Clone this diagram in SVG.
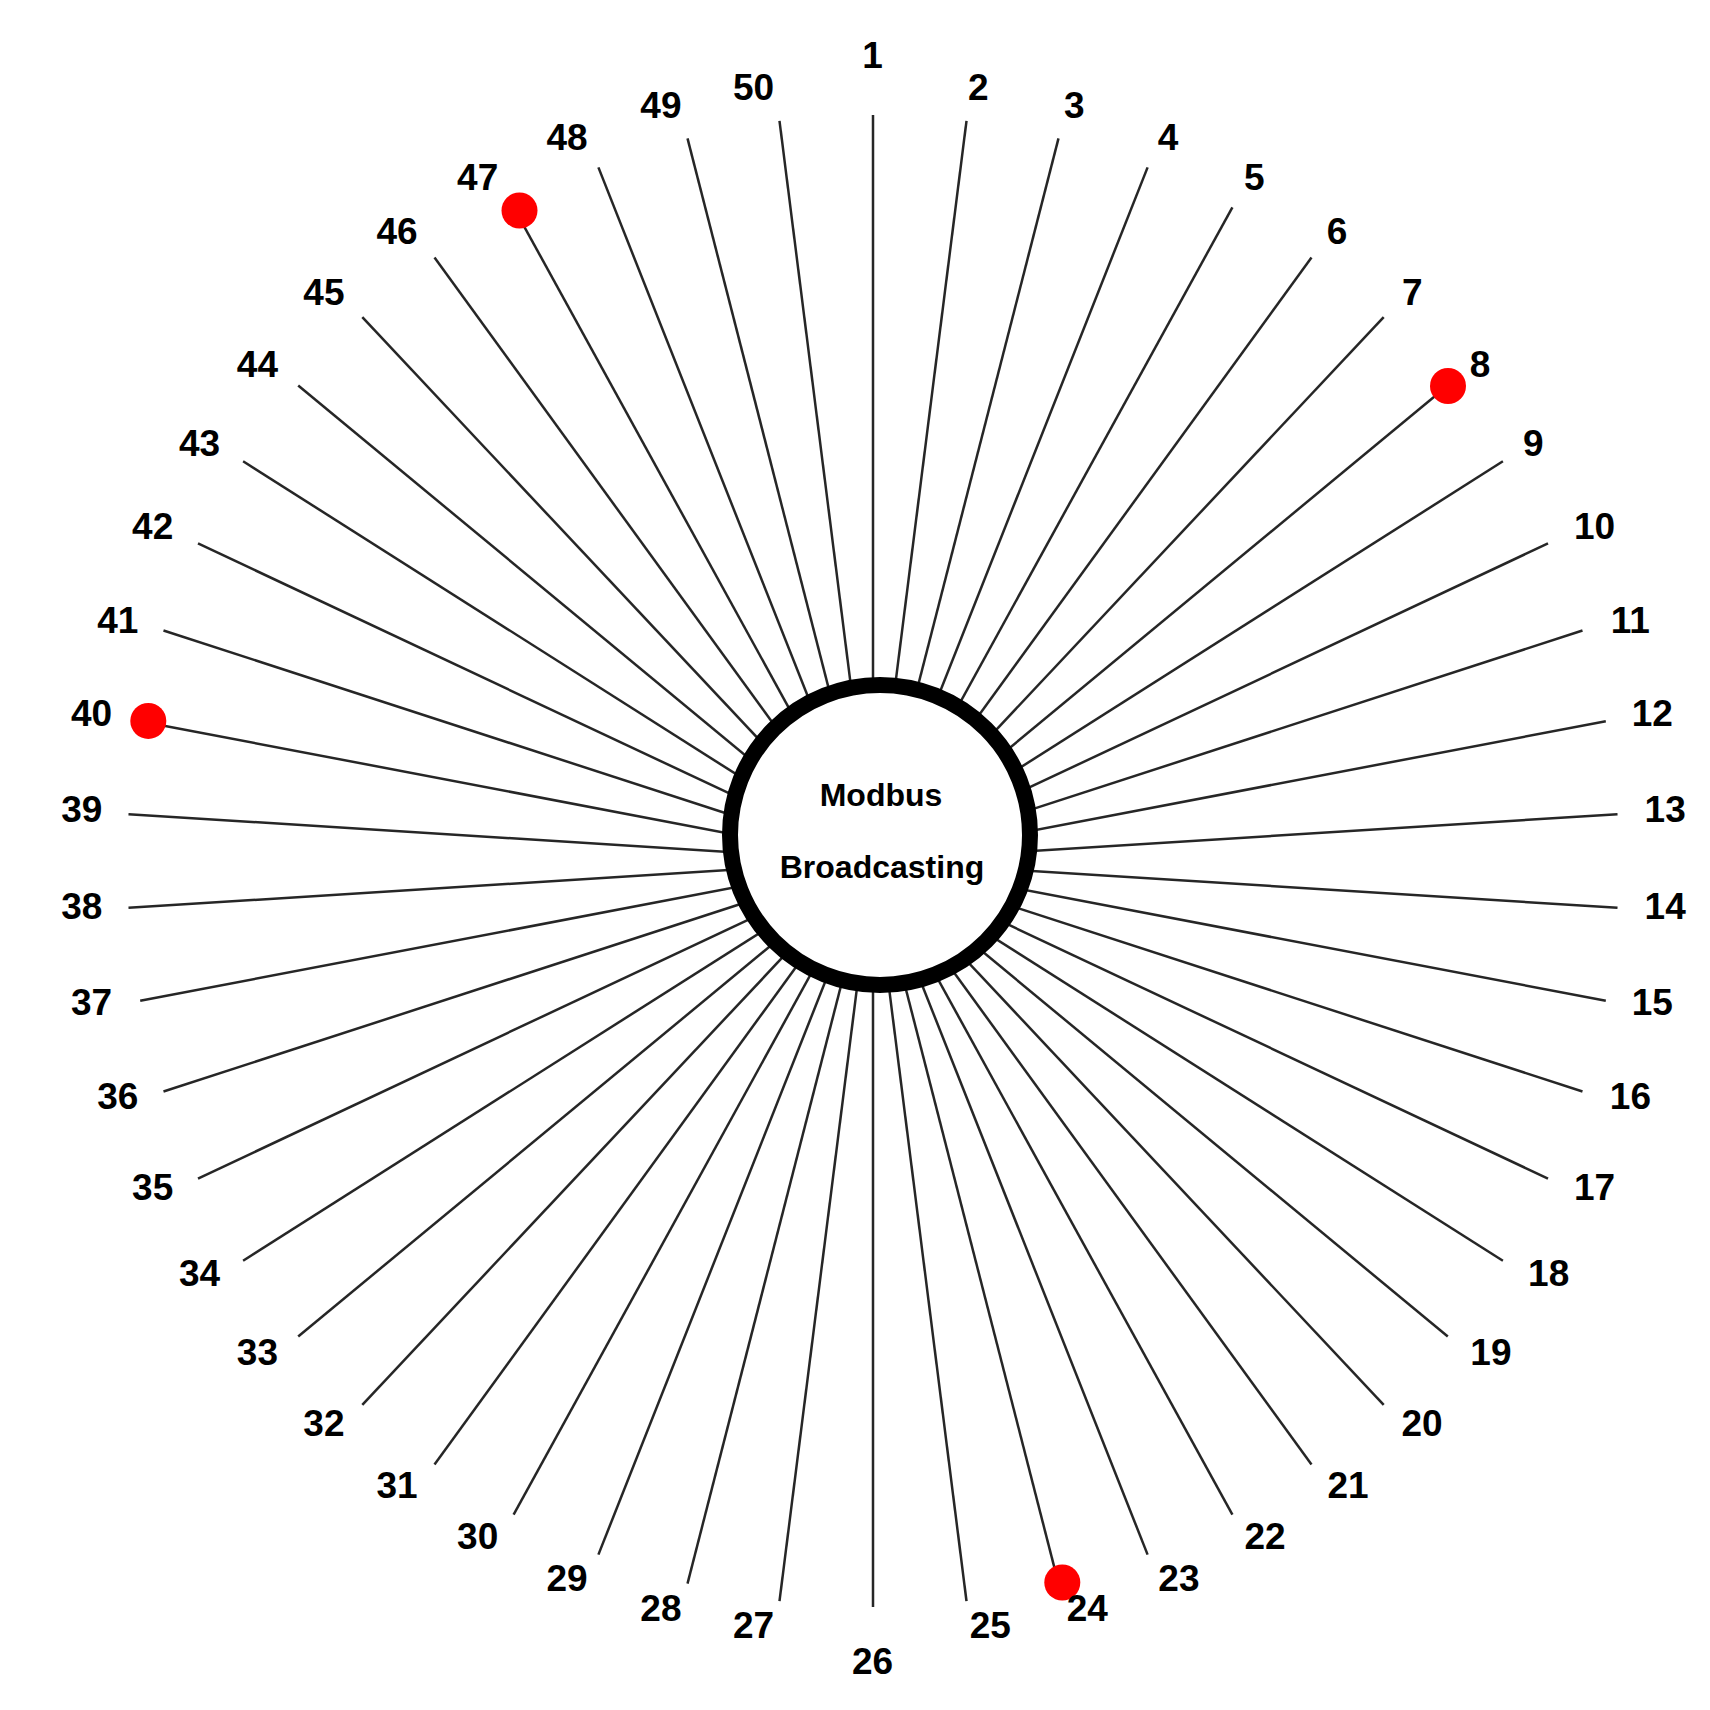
<svg xmlns="http://www.w3.org/2000/svg" width="1710" height="1710" viewBox="0 0 1710 1710">
<style>
.ln{stroke:#262626;stroke-width:2.5;fill:none}
.lb{font-family:"Liberation Sans",Arial,sans-serif;font-weight:bold;font-size:37px;fill:#000;text-anchor:middle}
.hub{fill:#fff;stroke:#000;stroke-width:16}
.ht{font-family:"Liberation Sans",Arial,sans-serif;font-weight:bold;font-size:32px;fill:#000;text-anchor:middle}
.dot{fill:#ff0000}
</style>
<rect width="1710" height="1710" fill="#fff"/>
<g id="connectors">
<line class="ln" x1="873" y1="861" x2="873" y2="115"/>
<line class="ln" x1="873" y1="861" x2="966.5" y2="120.9"/>
<line class="ln" x1="873" y1="861" x2="1058.5" y2="138.4"/>
<line class="ln" x1="873" y1="861" x2="1147.6" y2="167.4"/>
<line class="ln" x1="873" y1="861" x2="1232.4" y2="207.3"/>
<line class="ln" x1="873" y1="861" x2="1311.5" y2="257.5"/>
<line class="ln" x1="873" y1="861" x2="1383.7" y2="317.2"/>
<line class="ln" x1="873" y1="861" x2="1447.8" y2="385.5"/>
<line class="ln" x1="873" y1="861" x2="1502.9" y2="461.3"/>
<line class="ln" x1="873" y1="861" x2="1548.0" y2="543.4"/>
<line class="ln" x1="873" y1="861" x2="1582.5" y2="630.5"/>
<line class="ln" x1="873" y1="861" x2="1605.8" y2="721.2"/>
<line class="ln" x1="873" y1="861" x2="1617.5" y2="814.2"/>
<line class="ln" x1="873" y1="861" x2="1617.5" y2="907.8"/>
<line class="ln" x1="873" y1="861" x2="1605.8" y2="1000.8"/>
<line class="ln" x1="873" y1="861" x2="1582.5" y2="1091.5"/>
<line class="ln" x1="873" y1="861" x2="1548.0" y2="1178.6"/>
<line class="ln" x1="873" y1="861" x2="1502.9" y2="1260.7"/>
<line class="ln" x1="873" y1="861" x2="1447.8" y2="1336.5"/>
<line class="ln" x1="873" y1="861" x2="1383.7" y2="1404.8"/>
<line class="ln" x1="873" y1="861" x2="1311.5" y2="1464.5"/>
<line class="ln" x1="873" y1="861" x2="1232.4" y2="1514.7"/>
<line class="ln" x1="873" y1="861" x2="1147.6" y2="1554.6"/>
<line class="ln" x1="873" y1="861" x2="1058.5" y2="1583.6"/>
<line class="ln" x1="873" y1="861" x2="966.5" y2="1601.1"/>
<line class="ln" x1="873" y1="861" x2="873" y2="1607"/>
<line class="ln" x1="873" y1="861" x2="779.5" y2="1601.1"/>
<line class="ln" x1="873" y1="861" x2="687.5" y2="1583.6"/>
<line class="ln" x1="873" y1="861" x2="598.4" y2="1554.6"/>
<line class="ln" x1="873" y1="861" x2="513.6" y2="1514.7"/>
<line class="ln" x1="873" y1="861" x2="434.5" y2="1464.5"/>
<line class="ln" x1="873" y1="861" x2="362.3" y2="1404.8"/>
<line class="ln" x1="873" y1="861" x2="298.2" y2="1336.5"/>
<line class="ln" x1="873" y1="861" x2="243.1" y2="1260.7"/>
<line class="ln" x1="873" y1="861" x2="198.0" y2="1178.6"/>
<line class="ln" x1="873" y1="861" x2="163.5" y2="1091.5"/>
<line class="ln" x1="873" y1="861" x2="140.2" y2="1000.8"/>
<line class="ln" x1="873" y1="861" x2="128.5" y2="907.8"/>
<line class="ln" x1="873" y1="861" x2="128.5" y2="814.2"/>
<line class="ln" x1="873" y1="861" x2="140.2" y2="721.2"/>
<line class="ln" x1="873" y1="861" x2="163.5" y2="630.5"/>
<line class="ln" x1="873" y1="861" x2="198.0" y2="543.4"/>
<line class="ln" x1="873" y1="861" x2="243.1" y2="461.3"/>
<line class="ln" x1="873" y1="861" x2="298.2" y2="385.5"/>
<line class="ln" x1="873" y1="861" x2="362.3" y2="317.2"/>
<line class="ln" x1="873" y1="861" x2="434.5" y2="257.5"/>
<line class="ln" x1="873" y1="861" x2="513.6" y2="207.3"/>
<line class="ln" x1="873" y1="861" x2="598.4" y2="167.4"/>
<line class="ln" x1="873" y1="861" x2="687.5" y2="138.4"/>
<line class="ln" x1="873" y1="861" x2="779.5" y2="120.9"/>
</g>
<g id="hub">
<circle class="hub" cx="880" cy="835" r="150"/>
<text class="ht" x="881" y="806">Modbus</text>
<text class="ht" x="882" y="878">Broadcasting</text>
</g>
<g id="n1"><text class="lb" x="872.5" y="67.5">1</text></g>
<g id="n2"><text class="lb" x="978.3" y="100.2">2</text></g>
<g id="n3"><text class="lb" x="1074.2" y="117.7">3</text></g>
<g id="n4"><text class="lb" x="1168.0" y="150.4">4</text></g>
<g id="n5"><text class="lb" x="1254.2" y="189.7">5</text></g>
<g id="n6"><text class="lb" x="1337.1" y="244.2">6</text></g>
<g id="n7"><text class="lb" x="1412.3" y="305.3">7</text></g>
<g id="n8"><circle class="dot" cx="1448" cy="386" r="18"/><text class="lb" x="1480.0" y="377.3">8</text></g>
<g id="n9"><text class="lb" x="1533.4" y="455.8">9</text></g>
<g id="n10"><text class="lb" x="1594.5" y="538.7">10</text></g>
<g id="n11"><text class="lb" x="1630.4" y="632.5">11</text></g>
<g id="n12"><text class="lb" x="1652.3" y="726.3">12</text></g>
<g id="n13"><text class="lb" x="1665.2" y="822.2">13</text></g>
<g id="n14"><text class="lb" x="1665.2" y="919.3">14</text></g>
<g id="n15"><text class="lb" x="1652.3" y="1015.3">15</text></g>
<g id="n16"><text class="lb" x="1630.4" y="1109.1">16</text></g>
<g id="n17"><text class="lb" x="1594.5" y="1199.6">17</text></g>
<g id="n18"><text class="lb" x="1548.7" y="1285.7">18</text></g>
<g id="n19"><text class="lb" x="1490.9" y="1365.3">19</text></g>
<g id="n20"><text class="lb" x="1422.1" y="1436.2">20</text></g>
<g id="n21"><text class="lb" x="1348.0" y="1498.4">21</text></g>
<g id="n22"><text class="lb" x="1265.1" y="1548.6">22</text></g>
<g id="n23"><text class="lb" x="1178.9" y="1591.1">23</text></g>
<g id="n24"><circle class="dot" cx="1062.3" cy="1582.5" r="18"/><text class="lb" x="1087.3" y="1620.5">24</text></g>
<g id="n25"><text class="lb" x="990.3" y="1638.0">25</text></g>
<g id="n26"><text class="lb" x="872.5" y="1674.0">26</text></g>
<g id="n27"><text class="lb" x="753.6" y="1638.0">27</text></g>
<g id="n28"><text class="lb" x="660.9" y="1620.5">28</text></g>
<g id="n29"><text class="lb" x="567.1" y="1591.1">29</text></g>
<g id="n30"><text class="lb" x="477.7" y="1548.6">30</text></g>
<g id="n31"><text class="lb" x="397.0" y="1498.4">31</text></g>
<g id="n32"><text class="lb" x="323.9" y="1436.2">32</text></g>
<g id="n33"><text class="lb" x="257.4" y="1365.3">33</text></g>
<g id="n34"><text class="lb" x="199.6" y="1285.7">34</text></g>
<g id="n35"><text class="lb" x="152.7" y="1199.6">35</text></g>
<g id="n36"><text class="lb" x="117.8" y="1109.1">36</text></g>
<g id="n37"><text class="lb" x="91.6" y="1015.3">37</text></g>
<g id="n38"><text class="lb" x="81.8" y="919.3">38</text></g>
<g id="n39"><text class="lb" x="81.8" y="822.2">39</text></g>
<g id="n40"><circle class="dot" cx="148.3" cy="720.9" r="18"/><text class="lb" x="91.6" y="726.3">40</text></g>
<g id="n41"><text class="lb" x="117.8" y="632.5">41</text></g>
<g id="n42"><text class="lb" x="152.7" y="538.7">42</text></g>
<g id="n43"><text class="lb" x="199.6" y="455.8">43</text></g>
<g id="n44"><text class="lb" x="257.4" y="377.3">44</text></g>
<g id="n45"><text class="lb" x="323.9" y="305.3">45</text></g>
<g id="n46"><text class="lb" x="397.0" y="244.2">46</text></g>
<g id="n47"><circle class="dot" cx="519.5" cy="210.5" r="18"/><text class="lb" x="477.7" y="189.7">47</text></g>
<g id="n48"><text class="lb" x="567.1" y="150.4">48</text></g>
<g id="n49"><text class="lb" x="660.9" y="117.7">49</text></g>
<g id="n50"><text class="lb" x="753.6" y="100.2">50</text></g>
</svg>
